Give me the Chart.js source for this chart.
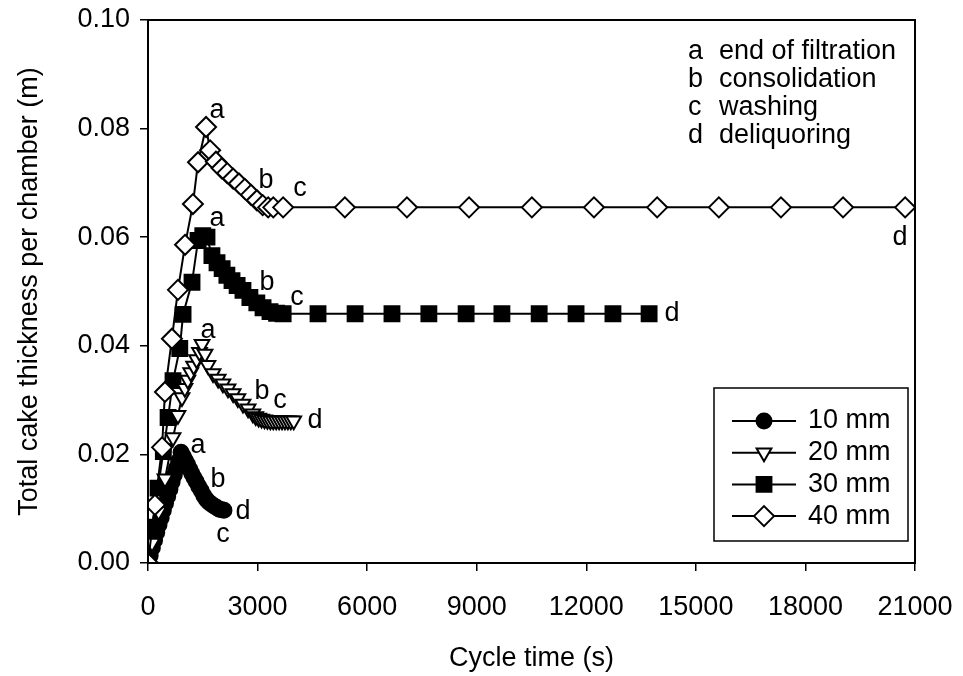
<!DOCTYPE html>
<html>
<head>
<meta charset="utf-8">
<script src="https://cdn.jsdelivr.net/npm/chart.js@4.4.0/dist/chart.umd.min.js"></script>
<style>
  html, body { margin: 0; padding: 0; background: #fff; }
  #wrap { width: 963px; height: 676px; }
</style>
</head>
<body>
<div id="wrap"><canvas id="cakeChart" width="963" height="676"></canvas></div>
<script>
const FONT = '"Liberation Sans", Arial, sans-serif';

// cycle time (s) and total cake thickness per chamber (m)
const time10 = [0, 60, 120, 180, 240, 300, 360, 420, 480, 540, 600, 660, 720, 780, 840, 905,
  960, 1020, 1080, 1140, 1200, 1260, 1320, 1390, 1460, 1530, 1600, 1670, 1740, 1810, 1880, 1950, 2020, 2080];
const thick10 = [0, 0.0014, 0.0028, 0.0042, 0.0056, 0.0070, 0.0083, 0.0097, 0.0110, 0.0123, 0.0136, 0.0149, 0.0162, 0.0175, 0.0188, 0.0204,
  0.0197, 0.0189, 0.0182, 0.0173, 0.0165, 0.0157, 0.0150, 0.0141, 0.0133, 0.0124, 0.0117, 0.0112, 0.0108, 0.0105, 0.0102, 0.0099, 0.0098, 0.0097];

const time20 = [0, 110, 290, 466, 685, 820, 930, 1010, 1090, 1170, 1250, 1330, 1410, 1480,
  1560, 1640, 1780, 1920, 2050, 2190, 2330, 2460, 2600, 2740, 2870,
  2950, 3030, 3110, 3190, 3270, 3350, 3430, 3510, 3590, 3670, 3750, 3830, 3910, 3990];
const thick20 = [0, 0.0037, 0.0095, 0.0155, 0.0231, 0.0272, 0.0305, 0.0322, 0.0337, 0.0351, 0.0363, 0.0375, 0.0388, 0.0403,
  0.0385, 0.0364, 0.0349, 0.0339, 0.0330, 0.0321, 0.0312, 0.0303, 0.0293, 0.0284, 0.0275,
  0.0270, 0.0267, 0.0265, 0.0264, 0.0263, 0.0262, 0.0262, 0.0262, 0.0262, 0.0262, 0.0262, 0.0262, 0.0262, 0.0262];

const time30 = [0, 110, 275, 420, 550, 685, 870, 960, 1205, 1370, 1500, 1615,
  1750, 1890, 2030, 2160, 2300, 2440, 2600, 2790, 2980, 3150, 3340, 3520, 3700,
  4655, 5670, 6680, 7690, 8710, 9690, 10710, 11720, 12730, 13720];
const thick30 = [0, 0.0066, 0.0138, 0.0205, 0.0268, 0.0336, 0.0395, 0.0458, 0.0517, 0.0594, 0.0603, 0.0600,
  0.0566, 0.0553, 0.0542, 0.0530, 0.0520, 0.0511, 0.0502, 0.0489, 0.0479, 0.0470, 0.0463, 0.0460, 0.0459,
  0.0459, 0.0459, 0.0459, 0.0459, 0.0459, 0.0459, 0.0459, 0.0459, 0.0459, 0.0459];

const time40 = [0, 190, 385, 465, 655, 820, 1015, 1230, 1370, 1590,
  1700, 1860, 2020, 2170, 2330, 2490, 2650, 2820, 2980, 3140, 3290, 3430, 3700,
  5390, 7090, 8790, 10510, 12210, 13940, 15630, 17330, 19030, 20730];
const thick40 = [0, 0.0107, 0.0213, 0.0315, 0.0413, 0.0503, 0.0586, 0.0661, 0.0738, 0.0803,
  0.0760, 0.0739, 0.0727, 0.0718, 0.0708, 0.0699, 0.0689, 0.0678, 0.0668, 0.0659, 0.0655, 0.0655, 0.0655,
  0.0655, 0.0655, 0.0655, 0.0655, 0.0655, 0.0655, 0.0655, 0.0655, 0.0655, 0.0655];

const seriesNames = ["10 mm", "20 mm", "30 mm", "40 mm"];

const xTicks = [0, 3000, 6000, 9000, 12000, 15000, 18000, 21000];
const yTicks = [0, 0.02, 0.04, 0.06, 0.08, 0.10];

// phase letters and where they sit (time, thickness) for each series
const phaseLetters = ["a", "b", "c", "d"];
const phaseNames = ["end of filtration", "consolidation", "washing", "deliquoring"];
const labelTime10 = [1369, 1917, 2054, 2601];
const labelThick10 = [0.0217, 0.0153, 0.0052, 0.0094];
const labelTime20 = [1643, 3121, 3614, 4573];
const labelThick20 = [0.0429, 0.0315, 0.0300, 0.0263];
const labelTime30 = [1889, 3258, 4080, 14347];
const labelThick30 = [0.0635, 0.0517, 0.0489, 0.0460];
const labelTime40 = [1889, 3231, 4162, 20590];
const labelThick40 = [0.0833, 0.0705, 0.0690, 0.0600];

const toPoints = (xs, ys) => xs.map((x, i) => ({ x, y: ys[i] }));

const marker = {
  "10 mm": { pointStyle: "circle", radius: 7.5, fill: "#000", rotation: 0 },
  "20 mm": { pointStyle: "triangle", radius: 8.5, fill: "#fff", rotation: 180 },
  "30 mm": { pointStyle: "rect", radius: 10.5, fill: "#000", rotation: 0 },
  "40 mm": { pointStyle: "rectRot", radius: 10, fill: "#fff", rotation: 0 },
};

function makeSet(name, xs, ys, order) {
  const m = marker[name];
  return {
    label: name,
    data: toPoints(xs, ys),
    showLine: true,
    borderColor: "#000",
    borderWidth: 2,
    tension: 0,
    pointStyle: m.pointStyle,
    pointRotation: m.rotation,
    pointRadius: m.radius,
    pointHoverRadius: m.radius,
    pointBackgroundColor: m.fill,
    pointBorderColor: "#000",
    pointBorderWidth: 2,
    order,
  };
}

const frame = {
  id: "frame",
  afterDraw(chart) {
    const { ctx, chartArea: a, scales } = chart;
    ctx.save();
    ctx.strokeStyle = "#000";
    ctx.lineWidth = 2;
    ctx.strokeRect(a.left, a.top, a.right - a.left, a.bottom - a.top);

    // letters next to the curves
    ctx.fillStyle = "#000";
    ctx.font = "27px " + FONT;
    ctx.textAlign = "center";
    ctx.textBaseline = "middle";
    const spots = [
      [labelTime10, labelThick10],
      [labelTime20, labelThick20],
      [labelTime30, labelThick30],
      [labelTime40, labelThick40],
    ];
    spots.forEach(([ts, ys]) => {
      ts.forEach((t, i) => {
        ctx.fillText(phaseLetters[i], scales.x.getPixelForValue(t), scales.y.getPixelForValue(ys[i]));
      });
    });

    // key for the letters
    ctx.textAlign = "left";
    phaseLetters.forEach((l, i) => {
      ctx.fillText(l, 688, 52 + i * 28);
      ctx.fillText(phaseNames[i], 719, 52 + i * 28);
    });

    // legend box
    ctx.lineWidth = 1.5;
    ctx.fillStyle = "#fff";
    ctx.fillRect(714, 388, 194, 153);
    ctx.strokeRect(714, 388, 194, 153);
    seriesNames.forEach((name, i) => {
      const y = 421 + i * 31.7;
      const m = marker[name];
      ctx.strokeStyle = "#000";
      ctx.lineWidth = 2;
      ctx.beginPath();
      ctx.moveTo(732, y);
      ctx.lineTo(796, y);
      ctx.stroke();
      ctx.fillStyle = m.fill;
      Chart.helpers.drawPoint(ctx, {
        pointStyle: m.pointStyle, rotation: m.rotation, radius: m.radius, borderWidth: 2,
      }, 764, y);
      ctx.fillStyle = "#000";
      ctx.fillText(name, 808, y);
    });
    ctx.restore();
  },
};

new Chart(document.getElementById("cakeChart"), {
  type: "scatter",
  data: {
    datasets: [
      makeSet("10 mm", time10, thick10, 3),
      makeSet("20 mm", time20, thick20, 1),
      makeSet("30 mm", time30, thick30, 2),
      makeSet("40 mm", time40, thick40, 0),
    ],
  },
  options: {
    responsive: false,
    animation: false,
    layout: { padding: { top: 20, right: 48, left: 0, bottom: 0 } },
    plugins: { legend: { display: false }, tooltip: { enabled: false } },
    scales: {
      x: {
        type: "linear",
        min: 0,
        max: 21000,
        afterBuildTicks: (s) => { s.ticks = xTicks.map((v) => ({ value: v })); },
        afterFit: (s) => { s.height = 113; s.paddingLeft = 0; s.paddingRight = 0; },
        border: { display: true, color: "#000", width: 2 },
        grid: { drawOnChartArea: false, drawTicks: true, tickLength: 8, color: "#000", lineWidth: 1.5 },
        ticks: { color: "#000", font: { family: FONT, size: 27 }, padding: 20, maxRotation: 0, autoSkip: false, callback: (v) => String(v) },
        title: { display: true, text: "Cycle time (s)", color: "#000", font: { family: FONT, size: 27 }, padding: { top: 0, bottom: 1 } },
      },
      y: {
        type: "linear",
        min: 0,
        max: 0.1,
        afterBuildTicks: (s) => { s.ticks = yTicks.map((v) => ({ value: v })); },
        afterFit: (s) => { s.width = 148; s.paddingTop = 0; s.paddingBottom = 0; },
        border: { display: true, color: "#000", width: 2 },
        grid: { drawOnChartArea: false, drawTicks: true, tickLength: 8, color: "#000", lineWidth: 1.5 },
        ticks: { color: "#000", font: { family: FONT, size: 27 }, padding: 10, callback: (v) => v.toFixed(2) },
        title: { display: true, text: "Total cake thickness per chamber (m)", color: "#000", font: { family: FONT, size: 27 }, padding: { top: 13, bottom: 0 } },
      },
    },
  },
  plugins: [frame],
});
</script>
</body>
</html>
